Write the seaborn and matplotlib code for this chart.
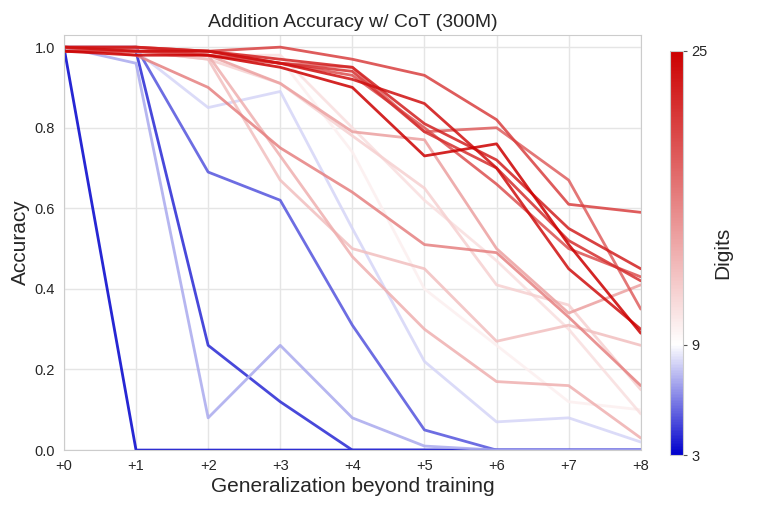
import numpy as np
import pandas as pd
import matplotlib
matplotlib.use("Agg")
from matplotlib import pyplot as plt
from matplotlib.colors import LinearSegmentedColormap, Normalize
import seaborn as sns

sns.set_style("whitegrid")
plt.rcParams['font.family'] = ['Liberation Sans', 'DejaVu Sans']

steps = [0, 1, 2, 3, 4, 5, 6, 7, 8]
step_labels = ["+0", "+1", "+2", "+3", "+4", "+5", "+6", "+7", "+8"]

# accuracy per training length (digits)
acc_3 = [1.00, 0.00, 0.00, 0.00, 0.00, 0.00, 0.00, 0.00, 0.00]
acc_4 = [1.00, 0.99, 0.26, 0.12, 0.00, 0.00, 0.00, 0.00, 0.00]
acc_5 = [1.00, 1.00, 0.69, 0.62, 0.31, 0.05, 0.00, 0.00, 0.00]
acc_7 = [1.00, 0.96, 0.08, 0.26, 0.08, 0.01, 0.00, 0.00, 0.00]
acc_8 = [1.00, 0.99, 0.85, 0.89, 0.55, 0.22, 0.07, 0.08, 0.02]
acc_10 = [1.00, 0.99, 0.98, 0.97, 0.74, 0.40, 0.26, 0.12, 0.10]
acc_11 = [1.00, 0.99, 0.98, 0.98, 0.80, 0.62, 0.47, 0.30, 0.09]
acc_12 = [1.00, 0.99, 0.97, 0.91, 0.78, 0.65, 0.41, 0.36, 0.15]
acc_13 = [1.00, 0.99, 0.97, 0.67, 0.50, 0.45, 0.27, 0.31, 0.26]
acc_14 = [1.00, 0.99, 0.98, 0.73, 0.48, 0.30, 0.17, 0.16, 0.03]
acc_15 = [1.00, 0.99, 0.98, 0.91, 0.79, 0.77, 0.50, 0.34, 0.41]
acc_17 = [1.00, 0.98, 0.90, 0.75, 0.64, 0.51, 0.49, 0.33, 0.16]
acc_19 = [0.99, 1.00, 0.98, 0.96, 0.95, 0.79, 0.80, 0.67, 0.35]
acc_20 = [0.99, 0.99, 0.98, 0.96, 0.93, 0.80, 0.66, 0.50, 0.43]
acc_21 = [0.99, 0.99, 0.99, 1.00, 0.97, 0.93, 0.82, 0.61, 0.59]
acc_22 = [1.00, 1.00, 0.99, 0.96, 0.94, 0.79, 0.70, 0.52, 0.42]
acc_23 = [1.00, 1.00, 0.99, 0.97, 0.95, 0.81, 0.72, 0.55, 0.45]
acc_24 = [1.00, 0.99, 0.99, 0.96, 0.92, 0.86, 0.70, 0.45, 0.30]
acc_25 = [0.99, 0.98, 0.98, 0.95, 0.90, 0.73, 0.76, 0.51, 0.29]

results = {3: acc_3, 4: acc_4, 5: acc_5, 7: acc_7, 8: acc_8, 10: acc_10,
           11: acc_11, 12: acc_12, 13: acc_13, 14: acc_14, 15: acc_15,
           17: acc_17, 19: acc_19, 20: acc_20, 21: acc_21, 22: acc_22,
           23: acc_23, 24: acc_24, 25: acc_25}

rows = []
for d, accs in results.items():
    for s, a in zip(steps, accs):
        rows.append({"digits": d, "step": s, "acc": a})
df = pd.DataFrame(rows)

vmin, vcenter, vmax = 3, 9, 25
cmap = LinearSegmentedColormap.from_list(
    "bwr_custom",
    [(0.0, "#0000cc"), ((vcenter - vmin) / (vmax - vmin), "#ffffff"), (1.0, "#cc0000")])
norm = Normalize(vmin=vmin, vmax=vmax)

fig = plt.figure(figsize=(7.61, 5.08), dpi=100)
ax = fig.add_axes([0.084, 0.114, 0.758, 0.817])
cax = fig.add_axes([0.880, 0.104, 0.017, 0.796])

sns.lineplot(data=df, x="step", y="acc", hue="digits", palette=cmap,
             hue_norm=norm, legend=False, linewidth=2, alpha=0.85, ax=ax)

ax.set_xlim(0, 8)
ax.set_ylim(0, 1.03)
ax.set_xticks(steps)
ax.set_xticklabels(step_labels)
ax.set_yticks([0.0, 0.2, 0.4, 0.6, 0.8, 1.0])
ax.set_yticklabels(["0.0", "0.2", "0.4", "0.6", "0.8", "1.0"])
ax.tick_params(labelsize=10.5, pad=3)
ax.grid(color="#e5e5e5", linewidth=1)
for sp in ax.spines.values():
    sp.set_color("#cccccc")
ax.set_title("Addition Accuracy w/ CoT (300M)", fontsize=14, pad=6)
ax.set_xlabel("Generalization beyond training", fontsize=15, labelpad=3)
ax.set_ylabel("Accuracy", fontsize=15, labelpad=3)

sm = plt.cm.ScalarMappable(cmap=cmap, norm=norm)
cb = fig.colorbar(sm, cax=cax, ticks=[3, 9, 25])
cb.ax.tick_params(labelsize=10.5, length=3, color="#555555")
cb.outline.set_edgecolor("#cccccc")
cb.set_label("Digits", fontsize=15, labelpad=4)

fig.savefig("out.png", dpi=100)
